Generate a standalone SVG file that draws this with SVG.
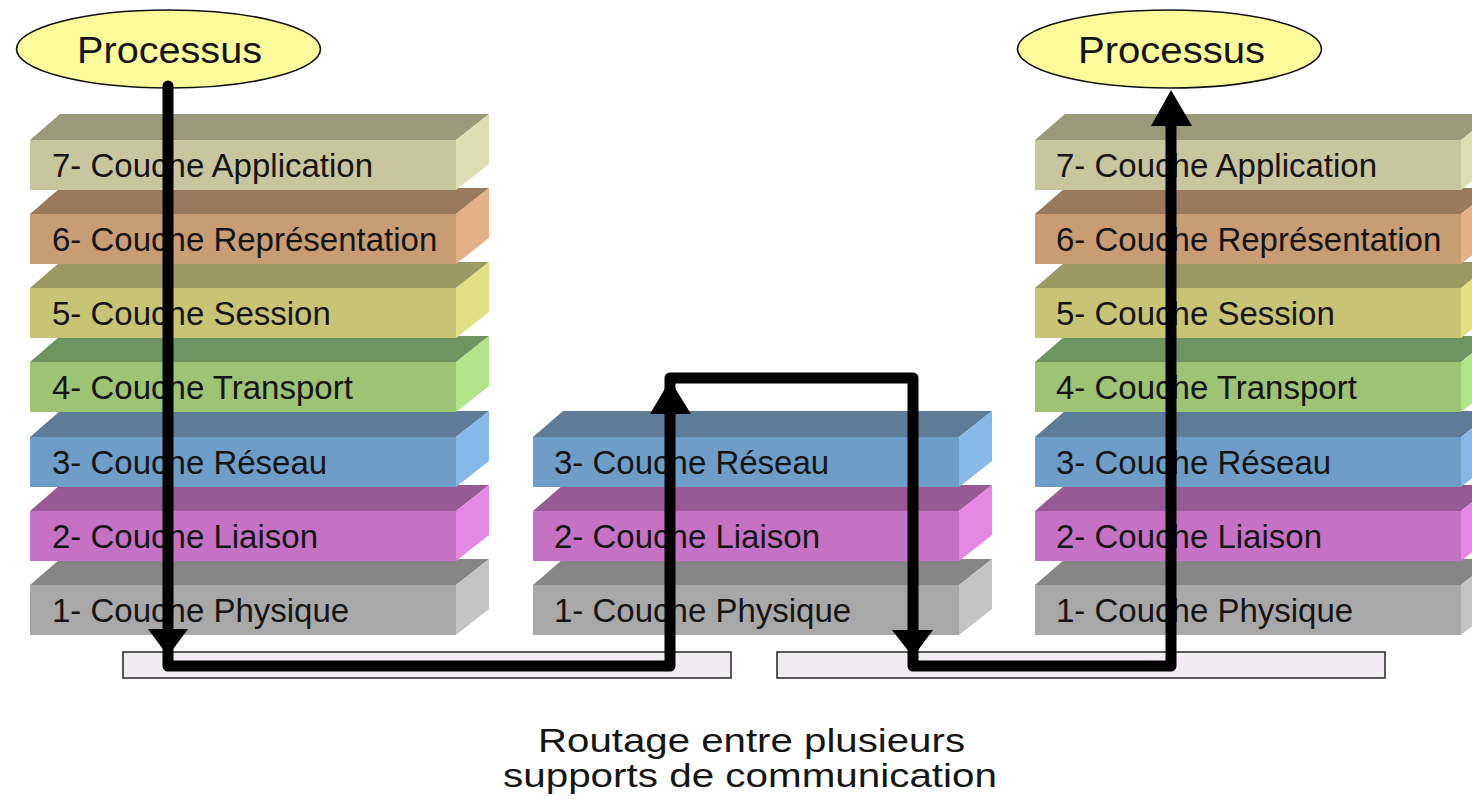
<svg xmlns="http://www.w3.org/2000/svg" width="1472" height="799" viewBox="0 0 1472 799">
  <style>
    .lbl { font-family: "Liberation Sans", Arial, sans-serif; font-size: 33px; fill: #151515; }
    .proc { font-family: "Liberation Sans", Arial, sans-serif; font-size: 37px; fill: #151515; }
    .cap { font-family: "Liberation Sans", Arial, sans-serif; font-size: 34px; fill: #151515; }
    .ell { fill: #fbfb9c; stroke: #111; stroke-width: 1.6; }
    .bus { fill: #f1ecf1; stroke: #333; stroke-width: 1.6; }
    .wire { fill: none; stroke: #000; stroke-width: 11; stroke-linejoin: round; stroke-linecap: round; }
    .head { fill: #000; }
    .c7 .t { fill: #9a9a7a; } .c7 .f { fill: #c8c69f; } .c7 .s { fill: #dedeb5; }
    .c6 .t { fill: #9a7a5c; } .c6 .f { fill: #c99d74; } .c6 .s { fill: #e4b088; }
    .c5 .t { fill: #9a9a62; } .c5 .f { fill: #c8c476; } .c5 .s { fill: #e2e084; }
    .c4 .t { fill: #6e9460; } .c4 .f { fill: #9cc474; } .c4 .s { fill: #b4e48a; }
    .c3 .t { fill: #5c7c98; } .c3 .f { fill: #6e9ec8; } .c3 .s { fill: #86b8e8; }
    .c2 .t { fill: #985a94; } .c2 .f { fill: #c672c4; } .c2 .s { fill: #e488e4; }
    .c1 .t { fill: #868686; } .c1 .f { fill: #a9a8a9; } .c1 .s { fill: #c4c4c4; }
  </style>
  <defs>
    <!-- one slab: top face, front face, right side face (local origin = front top-left) -->
    <polygon id="topface" points="0,0 30,-26 459,-26 426,0"/>
    <rect id="frontface" x="0" y="0" width="426" height="50"/>
    <polygon id="sideface" points="426,0 459,-26 459,24 426,50"/>
  </defs>

  <!-- Processus ellipses -->
  <g id="proc-left">
    <ellipse class="ell" cx="168.5" cy="49" rx="152" ry="39"/>
    <text class="proc" x="169.5" y="63" text-anchor="middle" textLength="185" lengthAdjust="spacingAndGlyphs">Processus</text>
  </g>
  <g id="proc-right">
    <ellipse class="ell" cx="1169.5" cy="49" rx="152" ry="39"/>
    <text class="proc" x="1171.5" y="63" text-anchor="middle" textLength="187" lengthAdjust="spacingAndGlyphs">Processus</text>
  </g>

  <!-- Left stack (7 layers) -->
  <g id="left-stack">
    <g id="left-l1" class="c1" transform="translate(30,585)"><use href="#topface" class="t"/><use href="#frontface" class="f"/><use href="#sideface" class="s"/><text class="lbl" x="22" y="37">1- Couche Physique</text></g>
    <g id="left-l2" class="c2" transform="translate(30,511)"><use href="#topface" class="t"/><use href="#frontface" class="f"/><use href="#sideface" class="s"/><text class="lbl" x="22" y="37">2- Couche Liaison</text></g>
    <g id="left-l3" class="c3" transform="translate(30,437)"><use href="#topface" class="t"/><use href="#frontface" class="f"/><use href="#sideface" class="s"/><text class="lbl" x="22" y="37">3- Couche Réseau</text></g>
    <g id="left-l4" class="c4" transform="translate(30,362)"><use href="#topface" class="t"/><use href="#frontface" class="f"/><use href="#sideface" class="s"/><text class="lbl" x="22" y="37">4- Couche Transport</text></g>
    <g id="left-l5" class="c5" transform="translate(30,288)"><use href="#topface" class="t"/><use href="#frontface" class="f"/><use href="#sideface" class="s"/><text class="lbl" x="22" y="37">5- Couche Session</text></g>
    <g id="left-l6" class="c6" transform="translate(30,214)"><use href="#topface" class="t"/><use href="#frontface" class="f"/><use href="#sideface" class="s"/><text class="lbl" x="22" y="37">6- Couche Représentation</text></g>
    <g id="left-l7" class="c7" transform="translate(30,140)"><use href="#topface" class="t"/><use href="#frontface" class="f"/><use href="#sideface" class="s"/><text class="lbl" x="22" y="37">7- Couche Application</text></g>
  </g>

  <!-- Middle stack (router, 3 layers) -->
  <g id="middle-stack">
    <g id="mid-l1" class="c1" transform="translate(533,585)"><use href="#topface" class="t"/><use href="#frontface" class="f"/><use href="#sideface" class="s"/><text class="lbl" x="21" y="37">1- Couche Physique</text></g>
    <g id="mid-l2" class="c2" transform="translate(533,511)"><use href="#topface" class="t"/><use href="#frontface" class="f"/><use href="#sideface" class="s"/><text class="lbl" x="21" y="37">2- Couche Liaison</text></g>
    <g id="mid-l3" class="c3" transform="translate(533,437)"><use href="#topface" class="t"/><use href="#frontface" class="f"/><use href="#sideface" class="s"/><text class="lbl" x="21" y="37">3- Couche Réseau</text></g>
  </g>

  <!-- Right stack (7 layers) -->
  <g id="right-stack">
    <g id="right-l1" class="c1" transform="translate(1035,585)"><use href="#topface" class="t"/><use href="#frontface" class="f"/><use href="#sideface" class="s"/><text class="lbl" x="21" y="37">1- Couche Physique</text></g>
    <g id="right-l2" class="c2" transform="translate(1035,511)"><use href="#topface" class="t"/><use href="#frontface" class="f"/><use href="#sideface" class="s"/><text class="lbl" x="21" y="37">2- Couche Liaison</text></g>
    <g id="right-l3" class="c3" transform="translate(1035,437)"><use href="#topface" class="t"/><use href="#frontface" class="f"/><use href="#sideface" class="s"/><text class="lbl" x="21" y="37">3- Couche Réseau</text></g>
    <g id="right-l4" class="c4" transform="translate(1035,362)"><use href="#topface" class="t"/><use href="#frontface" class="f"/><use href="#sideface" class="s"/><text class="lbl" x="21" y="37">4- Couche Transport</text></g>
    <g id="right-l5" class="c5" transform="translate(1035,288)"><use href="#topface" class="t"/><use href="#frontface" class="f"/><use href="#sideface" class="s"/><text class="lbl" x="21" y="37">5- Couche Session</text></g>
    <g id="right-l6" class="c6" transform="translate(1035,214)"><use href="#topface" class="t"/><use href="#frontface" class="f"/><use href="#sideface" class="s"/><text class="lbl" x="21" y="37">6- Couche Représentation</text></g>
    <g id="right-l7" class="c7" transform="translate(1035,140)"><use href="#topface" class="t"/><use href="#frontface" class="f"/><use href="#sideface" class="s"/><text class="lbl" x="21" y="37">7- Couche Application</text></g>
  </g>

  <!-- Transmission media -->
  <g id="media-left"><rect class="bus" x="123" y="652" width="608" height="26"/></g>
  <g id="media-right"><rect class="bus" x="777" y="652" width="608" height="26"/></g>

  <!-- Data path through the stacks -->
  <g id="connectors">
    <path class="wire" d="M168,86 V666 H670 V378 H913 V666 H1171 V120"/>
    <polygon class="head" points="148,629 188,629 168,656"/>
    <polygon class="head" points="650,414 691,414 670,380"/>
    <polygon class="head" points="892,630 933,630 913,657"/>
    <polygon class="head" points="1151,126 1192,126 1171,90"/>
  </g>

  <!-- Caption -->
  <g id="caption">
    <text class="cap" x="751.5" y="752" text-anchor="middle" textLength="427" lengthAdjust="spacingAndGlyphs">Routage entre plusieurs</text>
    <text class="cap" x="750" y="787" text-anchor="middle" textLength="494" lengthAdjust="spacingAndGlyphs">supports de communication</text>
  </g>
</svg>
